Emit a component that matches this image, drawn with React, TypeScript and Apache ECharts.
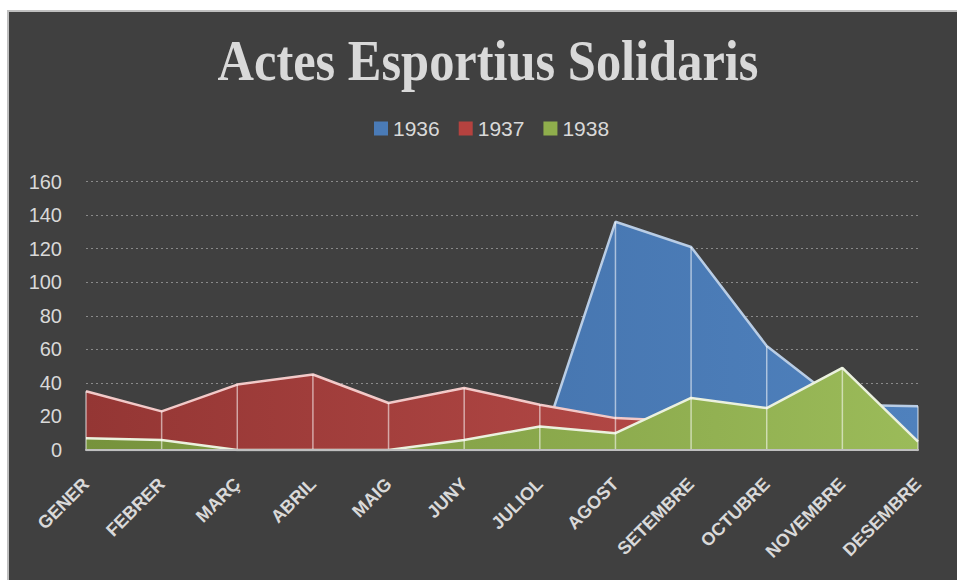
import React, { useEffect, useRef } from "react";
import * as echarts from "echarts";

const months = ["GENER", "FEBRER", "MARÇ", "ABRIL", "MAIG", "JUNY", "JULIOL", "AGOST", "SETEMBRE", "OCTUBRE", "NOVEMBRE", "DESEMBRE"];
const y1936 = [0, 0, 0, 0, 0, 0, 0, 136, 121, 62, 27, 26];
const y1937 = [35, 23, 39, 45, 28, 37, 27, 19, 17, 10, 5, 0];
const y1938 = [7, 6, 0, 0, 0, 6, 14, 10, 31, 25, 49, 5];
const yTicks = [0, 20, 40, 60, 80, 100, 120, 140, 160];
const seriesNames = ["1936", "1937", "1938"];

const TEXT = "#d9d9d9";

export default function App() {
  const ref = useRef<HTMLDivElement>(null);
  useEffect(() => {
    if (!ref.current) return;
    const chart = echarts.init(ref.current, null, { renderer: "svg" });
    const grad = (a: string, b: string) =>
      new echarts.graphic.LinearGradient(0, 0, 1, 0, [
        { offset: 0, color: a },
        { offset: 1, color: b },
      ]);
    const maxes = months.map((_, i) => Math.max(y1936[i], y1937[i], y1938[i]));
    const mk = (name: string, data: number[], fillA: string, fillB: string, solid: string, line: string, z: number) => ({
      name,
      type: "line",
      data,
      showSymbol: false,
      symbol: "none",
      itemStyle: { color: solid },
      lineStyle: { color: line, width: 2.5 },
      areaStyle: { color: grad(fillA, fillB), opacity: 1 },
      z,
    });
    chart.setOption({
      animation: false,
      backgroundColor: "transparent",
      graphic: [
        {
          type: "text",
          x: 488,
          y: 61,
          scaleX: 0.885,
          style: {
            text: "Actes Esportius Solidaris",
            font: "bold 57px 'Liberation Serif'",
            fill: TEXT,
            textAlign: "center",
            textVerticalAlign: "middle",
          },
        },
      ],
      legend: {
        left: 369,
        top: 113,
        icon: "rect",
        itemWidth: 14,
        itemHeight: 14,
        itemGap: 19,
        textStyle: { color: TEXT, fontSize: 21, fontFamily: "'Liberation Sans'" },
        data: [
          { name: seriesNames[0], itemStyle: { color: "#4a7bb7" } },
          { name: seriesNames[1], itemStyle: { color: "#b5423f" } },
          { name: seriesNames[2], itemStyle: { color: "#8fae4c" } },
        ],
      },
      grid: { left: 86, right: 39, top: 181.5, bottom: 130, containLabel: false },
      xAxis: {
        type: "category",
        data: months,
        boundaryGap: false,
        z: 10,
        axisLine: { show: true, lineStyle: { color: "#bfbfbf", width: 2 } },
        axisTick: { show: false },
        splitLine: { show: false },
        axisLabel: {
          rotate: 45,
          margin: 31,
          interval: 0,
          color: TEXT,
          fontSize: 18,
          fontWeight: "bold",
          fontFamily: "'Liberation Sans'",
        },
      },
      yAxis: {
        type: "value",
        min: yTicks[0],
        max: yTicks[yTicks.length - 1],
        interval: yTicks[1] - yTicks[0],
        axisLine: { show: false },
        axisTick: { show: false },
        axisLabel: { color: TEXT, fontSize: 20, margin: 24, fontFamily: "'Liberation Sans'" },
        splitLine: { show: true, lineStyle: { color: "#8a8a8a", width: 1, type: [2, 3] } },
      },
      series: [
        mk(seriesNames[0], y1936, "#3d6aa2", "#4f81bd", "#4a7bb7", "#b9cde5", 2),
        mk(seriesNames[1], y1937, "#943634", "#c0504d", "#b5423f", "#f2c9c8", 3),
        mk(seriesNames[2], y1938, "#76923c", "#9bbb59", "#8fae4c", "#ebf1de", 4),
        {
          name: "drop",
          type: "custom",
          data: maxes.map((m, i) => [i, m]),
          z: 5,
          silent: true,
          renderItem: (params: any, api: any) => {
            const top = api.coord([api.value(0), api.value(1)]);
            const bot = api.coord([api.value(0), 0]);
            return {
              type: "line",
              shape: { x1: top[0], y1: top[1], x2: bot[0], y2: bot[1] },
              style: { stroke: "rgba(255,255,255,0.55)", lineWidth: 1.5 },
            };
          },
        },
      ],
    });
    return () => chart.dispose();
  }, []);
  return (
    <div style={{ position: "fixed", left: 0, top: 0, width: 957, height: 580, background: "#ffffff", overflow: "hidden" }}>
      <div
        style={{
          position: "absolute",
          left: 7,
          top: 10,
          width: 1000,
          height: 620,
          background: "#404040",
          border: "2px solid #bfbfbf",
        }}
      />
      <div ref={ref} style={{ position: "absolute", left: 0, top: 0, width: 957, height: 580 }} />
    </div>
  );
}
